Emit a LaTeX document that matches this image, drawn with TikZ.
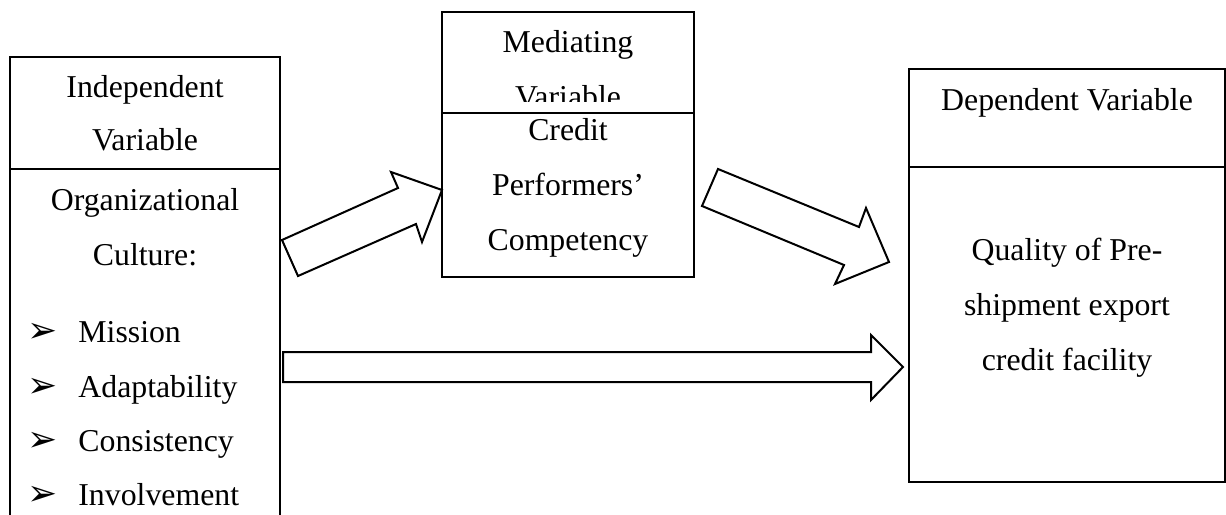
\documentclass[tikz,border=0pt]{standalone}
\usepackage{fontspec}
\setmainfont{Liberation Serif}
\newfontfamily\symfont{DejaVu Sans}
\begin{document}
\begin{tikzpicture}[x=0.5pt,y=-0.5pt,
  box/.style={draw, line width=1pt, fill=white, anchor=north west, inner sep=0pt, outer sep=0pt},
  txt/.style={anchor=base, inner sep=0pt, font=\fontsize{15.9}{19}\selectfont},
  itm/.style={anchor=base west, inner sep=0pt, font=\fontsize{15.9}{19}\selectfont},
  bul/.style={anchor=base, inner sep=0pt, font=\symfont\fontsize{18}{20}\selectfont},
  blockarrow/.style={draw, line width=1pt, fill=white, line join=miter}]
\useasboundingbox (0,0) rectangle (1226,514);
\clip (0,0) rectangle (1226,514);
% left box
\node[box, minimum width=135pt, minimum height=56pt] (indhead) at (10,57) {};
\node[box, minimum width=135pt, minimum height=186pt] (indbody) at (10,169) {};
\node[txt] (t1) at (145,97) {Independent};
\node[txt] (t2) at (145,150) {Variable};
\node[txt] (t3) at (145,210) {Organizational};
\node[txt] (t4) at (145,265) {Culture:};
\node[bul] (b1) at (43,342) {➢};
\node[itm] (i1) at (78,342) {Mission};
\node[bul] (b2) at (43,397) {➢};
\node[itm] (i2) at (78,397) {Adaptability};
\node[bul] (b3) at (43,451) {➢};
\node[itm] (i3) at (78,451) {Consistency};
\node[bul] (b4) at (43,505) {➢};
\node[itm] (i4) at (78,505) {Involvement};
% middle box
\node[box, minimum width=126pt, minimum height=50.5pt] (medhead) at (442,12) {};
\node[txt] (m1) at (568,52) {Mediating};
\begin{scope}
\clip (443,14) rectangle (693,101);
\node[txt] (m2) at (568,107) {Variable};
\end{scope}
\node[box, minimum width=126pt, minimum height=82pt] (medbody) at (442,113) {};
\node[txt] (m3) at (568,140) {Credit};
\node[txt] (m4) at (568,195) {Performers’};
\node[txt] (m5) at (568,250) {Competency};
% right box
\node[box, minimum width=158pt, minimum height=49pt] (dephead) at (909,69) {};
\node[box, minimum width=158pt, minimum height=157.5pt] (depbody) at (909,167) {};
\node[txt] (d1) at (1067,110) {Dependent Variable};
\node[txt] (d2) at (1067,260) {Quality of Pre-};
\node[txt] (d3) at (1067,315) {shipment export};
\node[txt] (d4) at (1067,370) {credit facility};
% block arrows
\draw[blockarrow] (282,240) -- (398,188) -- (391,172) -- (442,190) -- (422,242) -- (416,224) -- (298,276) -- cycle;
\draw[blockarrow] (718,169) -- (859,227) -- (866,208) -- (889,262) -- (835,284) -- (844,265) -- (702,206) -- cycle;
\draw[blockarrow] (283,352) -- (871,352) -- (871,335) -- (903,367) -- (871,400) -- (871,382) -- (283,382) -- cycle;
\end{tikzpicture}
\end{document}
